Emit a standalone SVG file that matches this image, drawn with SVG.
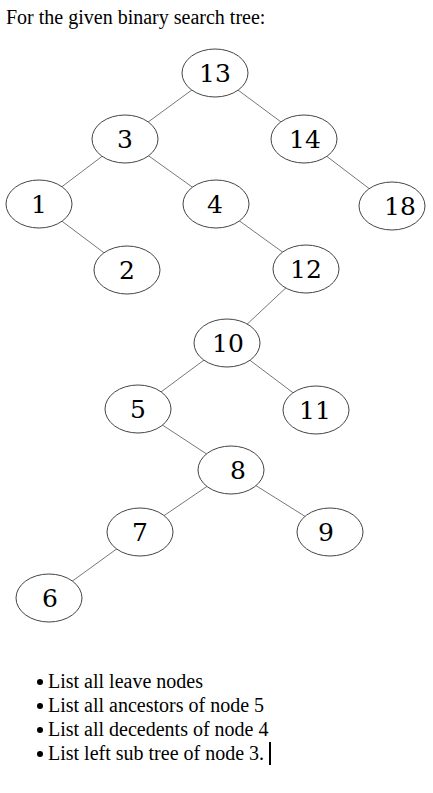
<svg xmlns="http://www.w3.org/2000/svg" width="433" height="793" viewBox="0 0 433 793">
<style>
.n ellipse{fill:#fff;stroke:#444;stroke-width:1}
.n text{font-family:"DejaVu Serif","Liberation Serif",serif;font-size:25px;fill:#000;text-anchor:middle}
.e line{stroke:#777;stroke-width:1}
.t{font-family:"Liberation Serif","Times New Roman",serif;font-size:20px;fill:#000}
</style>
<rect width="433" height="793" fill="#fff"/>
<text class="t" x="6" y="24">For the given binary search tree:</text>
<g class="e" id="edges">
<line x1="215" y1="73" x2="125" y2="139"/>
<line x1="215" y1="73" x2="304" y2="139"/>
<line x1="125" y1="139" x2="39" y2="204"/>
<line x1="125" y1="139" x2="216" y2="204"/>
<line x1="304" y1="139" x2="392" y2="206"/>
<line x1="39" y1="204" x2="127" y2="270"/>
<line x1="216" y1="204" x2="306" y2="269"/>
<line x1="306" y1="269" x2="227" y2="343"/>
<line x1="227" y1="343" x2="138" y2="409"/>
<line x1="227" y1="343" x2="316" y2="410"/>
<line x1="138" y1="409" x2="231" y2="470"/>
<line x1="231" y1="470" x2="140" y2="532"/>
<line x1="231" y1="470" x2="330" y2="532"/>
<line x1="140" y1="532" x2="49" y2="598"/>
</g>
<g class="n" id="n13"><ellipse cx="215" cy="73" rx="33" ry="24"/><text x="215" y="82">13</text></g>
<g class="n" id="n3"><ellipse cx="125" cy="139" rx="33" ry="24"/><text x="125" y="148">3</text></g>
<g class="n" id="n14"><ellipse cx="304" cy="139" rx="33" ry="24"/><text x="305" y="148">14</text></g>
<g class="n" id="n1"><ellipse cx="39" cy="204" rx="33" ry="24"/><text x="39" y="213">1</text></g>
<g class="n" id="n4"><ellipse cx="216" cy="204" rx="33" ry="24"/><text x="215" y="213">4</text></g>
<g class="n" id="n18"><ellipse cx="392" cy="206" rx="33" ry="24"/><text x="400" y="215">18</text></g>
<g class="n" id="n2"><ellipse cx="127" cy="270" rx="33" ry="24"/><text x="127" y="279">2</text></g>
<g class="n" id="n12"><ellipse cx="306" cy="269" rx="33" ry="24"/><text x="306" y="278">12</text></g>
<g class="n" id="n10"><ellipse cx="227" cy="343" rx="33" ry="24"/><text x="228" y="352">10</text></g>
<g class="n" id="n5"><ellipse cx="138" cy="409" rx="33" ry="24"/><text x="138" y="418">5</text></g>
<g class="n" id="n11"><ellipse cx="316" cy="410" rx="33" ry="24"/><text x="315" y="419">11</text></g>
<g class="n" id="n8"><ellipse cx="231" cy="470" rx="33" ry="24"/><text x="238" y="479">8</text></g>
<g class="n" id="n7"><ellipse cx="140" cy="532" rx="33" ry="24"/><text x="140" y="541">7</text></g>
<g class="n" id="n9"><ellipse cx="330" cy="532" rx="33" ry="24"/><text x="326" y="541">9</text></g>
<g class="n" id="n6"><ellipse cx="49" cy="598" rx="33" ry="24"/><text x="50" y="607">6</text></g>
<g id="list">
<circle cx="40" cy="682" r="3"/>
<text class="t" x="48" y="688">List all leave nodes</text>
<circle cx="40" cy="706" r="3"/>
<text class="t" x="48" y="712">List all ancestors of node 5</text>
<circle cx="40" cy="730" r="3"/>
<text class="t" x="48" y="736">List all decedents of node 4</text>
<circle cx="40" cy="754" r="3"/>
<text class="t" x="48" y="760">List left sub tree of node 3.</text>
<rect x="269" y="742" width="2" height="23" fill="#000"/>
</g>
</svg>
